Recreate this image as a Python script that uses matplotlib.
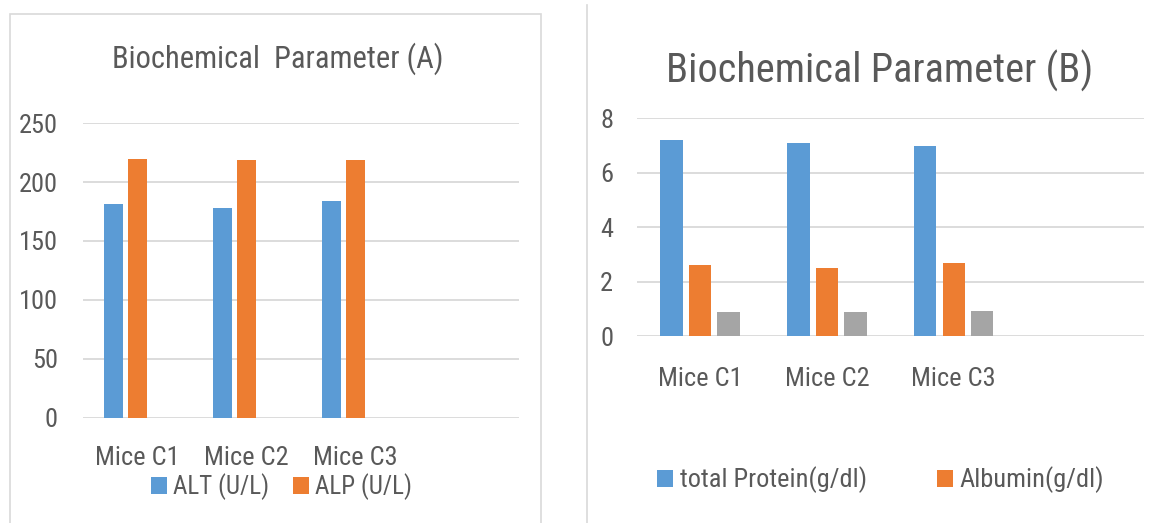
import matplotlib
matplotlib.use("Agg")
import matplotlib.pyplot as plt
from matplotlib import font_manager as fm
from matplotlib.patches import Patch, Rectangle
from matplotlib.lines import Line2D
import numpy as np

# ---------------- data ----------------
categories = ["Mice C1", "Mice C2", "Mice C3"]

alt_values = [181, 178, 184]          # ALT (U/L)
alp_values = [220, 218.5, 218.5]      # ALP (U/L)
a_labels = ["ALT (U/L)", "ALP (U/L)"]
a_yticks = [0, 50, 100, 150, 200, 250]

protein_values = [7.2, 7.1, 7.0]      # total Protein(g/dl)
albumin_values = [2.62, 2.49, 2.67]   # Albumin(g/dl)
third_values = [0.87, 0.87, 0.93]     # third series (legend entry not visible)
b_labels = ["total Protein(g/dl)", "Albumin(g/dl)"]
b_yticks = [0, 2, 4, 6, 8]

title_a = "Biochemical  Parameter (A)"
title_b = "Biochemical Parameter (B)"

# ---------------- style ----------------
BLUE = "#5B9BD5"
ORANGE = "#ED7D31"
GRAY = "#A5A5A5"
TEXT = "#595959"
GRID = "#D9D9D9"

avail = {f.name for f in fm.fontManager.ttflist}
font = "DejaVu Sans"
for cand in ["Roboto Condensed", "Liberation Sans Narrow", "Open Sans Condensed",
             "DejaVu Sans Condensed", "Lato"]:
    if cand in avail:
        font = cand
        break
plt.rcParams["font.family"] = [font, "DejaVu Sans"]

W, H = 1152, 523
fig = plt.figure(figsize=(W / 100, H / 100), dpi=100)
fig.patch.set_facecolor("white")


def fx(px):
    return px / W


def fy(py):
    return 1 - py / H


# panel decorations (border of chart A, separator before chart B)
fig.add_artist(Rectangle((fx(10), fy(540)), fx(541) - fx(10), fy(14) - fy(540),
                         transform=fig.transFigure, fill=False, edgecolor=GRID, lw=1.2))
fig.add_artist(Line2D([fx(586.5), fx(586.5)], [fy(5), fy(523)],
                      transform=fig.transFigure, color=GRID, lw=1.2))


def style_axes(ax, yticks, ytick_pad, xtick_pad):
    for s in ax.spines.values():
        s.set_visible(False)
    ax.set_yticks(yticks)
    ax.set_ylim(yticks[0], yticks[-1])
    ax.yaxis.grid(True, color=GRID, lw=1.3)
    ax.set_axisbelow(True)
    ax.tick_params(axis="both", length=0, colors=TEXT, labelsize=19)
    ax.tick_params(axis="y", pad=ytick_pad)
    ax.tick_params(axis="x", pad=xtick_pad)
    ax.set_xlim(-0.5, 3.5)
    ax.set_xticks(range(len(categories)))
    ax.set_xticklabels(categories)
    for lbl in ax.get_xticklabels():
        lbl.set_verticalalignment("center")
    ax.set_facecolor("none")


# ---------------- chart A ----------------
ax1 = fig.add_axes([fx(83), fy(417.5), fx(519) - fx(83), fy(123.3) - fy(417.5)])
x = np.arange(len(categories))
wa = 0.17
step_a = 0.22
ax1.bar(x - step_a, alt_values, wa, color=BLUE, label=a_labels[0])
ax1.bar(x, alp_values, wa, color=ORANGE, label=a_labels[1])
style_axes(ax1, a_yticks, 18, 29)

fig.text(fx(278), fy(59), title_a, ha="center", va="center", color=TEXT, fontsize=22)

ha = [Patch(facecolor=BLUE), Patch(facecolor=ORANGE)]
fig.legend(ha, a_labels, loc="center", bbox_to_anchor=(fx(281.5), fy(487)),
           ncol=2, frameon=False, fontsize=18, labelcolor=TEXT,
           handlelength=0.65, handleheight=0.65, handletextpad=0.25,
           columnspacing=0.95, borderpad=0, borderaxespad=0)

# ---------------- chart B ----------------
ax2 = fig.add_axes([fx(636.7), fy(336), fx(1144) - fx(636.7), fy(118.3) - fy(336)])
wb = 0.176
step_b = 0.225
ax2.bar(x - step_b, protein_values, wb, color=BLUE, label=b_labels[0])
ax2.bar(x, albumin_values, wb, color=ORANGE, label=b_labels[1])
ax2.bar(x + step_b, third_values, wb, color=GRAY)
style_axes(ax2, b_yticks, 17, 31)

fig.text(fx(880), fy(71), title_b, ha="center", va="center", color=TEXT, fontsize=29)

hb = [Patch(facecolor=BLUE), Patch(facecolor=ORANGE)]
fig.legend(hb, b_labels, loc="center", bbox_to_anchor=(fx(880.5), fy(480)),
           ncol=2, frameon=False, fontsize=19, labelcolor=TEXT,
           handlelength=0.6, handleheight=0.6, handletextpad=0.25,
           columnspacing=2.65, borderpad=0, borderaxespad=0)

fig.savefig("out.png", dpi=100, facecolor="white")
